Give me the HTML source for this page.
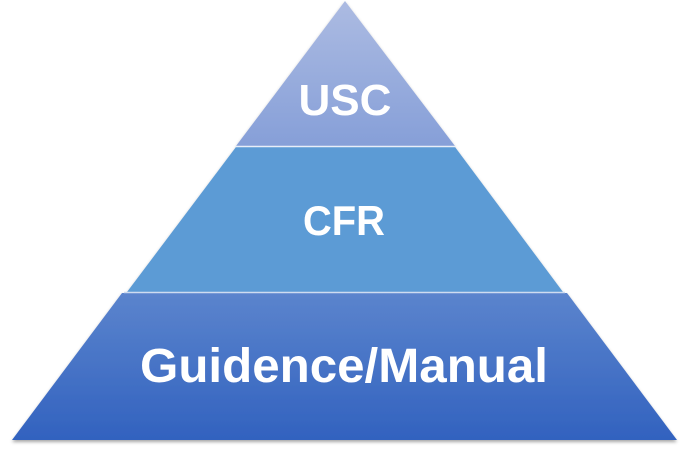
<!DOCTYPE html>
<html><head><style>html,body{margin:0;padding:0;background:#fff;width:684px;height:450px;overflow:hidden}</style></head>
<body>
<svg width="684" height="450" viewBox="0 0 684 450" xmlns="http://www.w3.org/2000/svg">
<defs>
<linearGradient id="g1" x1="0" y1="0" x2="0" y2="1"><stop offset="0" stop-color="#acbbe2"/><stop offset="1" stop-color="#869fd8"/></linearGradient>
<linearGradient id="g3" x1="0" y1="0" x2="0" y2="1"><stop offset="0" stop-color="#5b84cd"/><stop offset="1" stop-color="#3262bf"/></linearGradient>
<filter id="sh" x="-5%" y="-5%" width="110%" height="115%"><feDropShadow dx="0" dy="2" stdDeviation="1.5" flood-color="#000" flood-opacity="0.35"/></filter>
</defs>
<g filter="url(#sh)">
<polygon points="345,1 455,146 236,146" fill="url(#g1)"/>
<polygon points="236,147 455,147 563,292 127,292" fill="#5b9bd5"/>
<polygon points="122,293 567,293 677,440 12,440" fill="url(#g3)"/>
</g>
<line x1="236" y1="146.5" x2="455" y2="146.5" stroke="#e8eef8" stroke-width="1.5"/>
<line x1="124" y1="292.5" x2="565" y2="292.5" stroke="#cfdcf0" stroke-width="1.5"/>
<g font-family="Liberation Sans, sans-serif" font-weight="bold" fill="#fff" text-anchor="middle">
<text x="345" y="115" font-size="44" textLength="93" lengthAdjust="spacingAndGlyphs">USC</text>
<text x="344" y="235" font-size="42" textLength="82" lengthAdjust="spacingAndGlyphs">CFR</text>
<text x="344" y="382" font-size="48" textLength="408" lengthAdjust="spacingAndGlyphs">Guidence/Manual</text>
</g>
</svg>
</body></html>
